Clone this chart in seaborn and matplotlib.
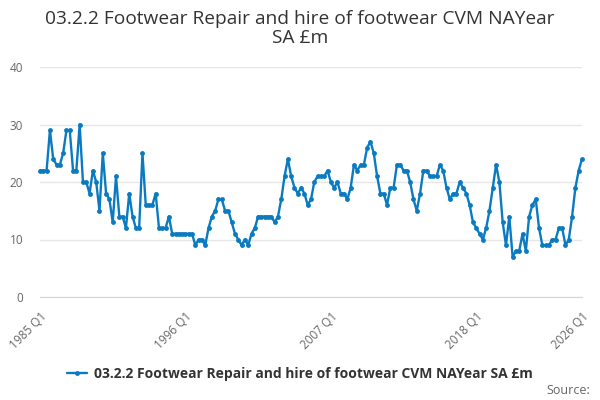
import matplotlib
matplotlib.use("Agg")
import matplotlib.pyplot as plt
import seaborn as sns
import pandas as pd

# quarterly values, 1985 Q1 .. 2026 Q1
values = [
    22, 22, 22, 29, 24, 23, 23, 25, 29, 29, 22, 22, 30,
    20, 20, 18, 22, 20, 15, 25, 18, 17, 13, 21, 14, 14, 12,
    18, 14, 12, 12, 25, 16, 16, 16, 18, 12, 12, 12, 14,
    11, 11, 11, 11, 11, 11, 11,
    9, 10, 10, 9, 12, 14, 15,
    17, 17, 15, 15, 13, 11, 10, 9, 10, 9, 11, 12,
    14, 14, 14, 14, 14, 13, 14,
    17, 21, 24, 21, 19, 18, 19, 18, 16, 17,
    20, 21, 21, 21, 22, 20, 19, 20, 18, 18, 17, 19, 23, 22, 23, 23, 26, 27,
    25, 21, 18, 18, 16, 19, 19, 23, 23, 22, 22, 20, 17, 15, 18, 22, 22, 21, 21, 21,
    23, 22, 19, 17, 18, 18, 20, 19, 18,
    16, 13, 12, 11, 10, 12, 15, 19, 23, 20, 13, 9, 14, 7, 8, 8, 11, 8, 14, 16, 17,
    12, 9, 9, 9, 10, 10, 12, 12, 9, 10, 14, 19, 22, 24,
]
quarters = [f"{1985 + i // 4} Q{i % 4 + 1}" for i in range(len(values))]
tick_labels = ["1985 Q1", "1996 Q1", "2007 Q1", "2018 Q1", "2026 Q1"]
y_ticks = [0, 10, 20, 30, 40]
series_name = "03.2.2 Footwear Repair and hire of footwear CVM NAYear SA £m"

df = pd.DataFrame({"Quarter": quarters, "Value": values})
df["pos"] = range(len(df))

sns.set_style("white")
plt.rcParams["font.family"] = ["Open Sans", "DejaVu Sans"]

fig = plt.figure(figsize=(6, 4), dpi=100)
ax = fig.add_axes([40 / 600, 103 / 400, 542 / 600, 230 / 400])

sns.lineplot(data=df, x="pos", y="Value", ax=ax, color="#0a7bc1",
             marker="o", markersize=3.5, markeredgewidth=0, linewidth=1.7,
             label=series_name, clip_on=False)

ax.set_xlim(0, len(values) - 1)
ax.set_ylim(0, 40)
ax.set_yticks(y_ticks)
ax.set_yticklabels([str(v) for v in y_ticks], fontsize=8.5, color="#666666")

# tick marks every 11 quarters, labels on a few
tick_pos = list(range(0, len(values), 11))
if tick_pos[-1] != len(values) - 1:
    tick_pos.append(len(values) - 1)
labels = [quarters[p] if quarters[p] in tick_labels else "" for p in tick_pos]
ax.set_xticks(tick_pos)
ax.set_xticklabels(labels, rotation=45, ha="right", va="top",
                   rotation_mode="anchor", fontsize=8.5, color="#666666")

ax.tick_params(axis="x", length=6, width=1, color="#ccd6eb", pad=3)
ax.tick_params(axis="y", length=0, pad=12)
for s in ["top", "right", "left"]:
    ax.spines[s].set_visible(False)
ax.spines["bottom"].set_color("#ccd6eb")
ax.grid(axis="y", color="#e6e6e6", linewidth=1)
ax.set_axisbelow(True)
ax.set_xlabel("")
ax.set_ylabel("")

leg = ax.legend(loc="center", bbox_to_anchor=(0.5, 26 / 400),
                bbox_transform=fig.transFigure, frameon=False,
                prop={"weight": "bold", "size": 10}, handlelength=1.4,
                handletextpad=0.5)
for t in leg.get_texts():
    t.set_color("#333333")

fig.text(0.5, 0.928, "03.2.2 Footwear Repair and hire of footwear CVM NAYear\nSA £m",
         ha="center", va="center", fontsize=13.8, color="#333333", linespacing=1.1)
fig.text(0.983, 1 - 390 / 400, "Source:", ha="right", va="center",
         fontsize=9, color="#666666")

fig.savefig("out.png", dpi=100)
